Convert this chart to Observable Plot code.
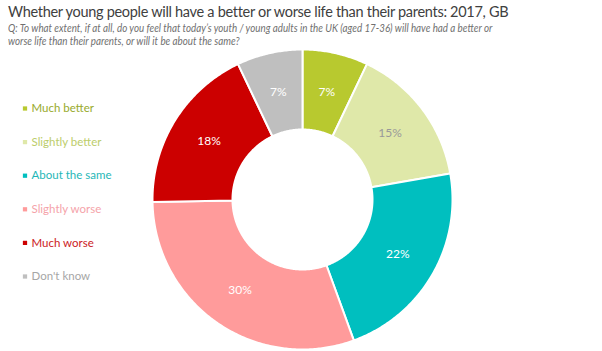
<!DOCTYPE html>
<html>
<head>
<meta charset="utf-8">
<script src="https://cdn.jsdelivr.net/npm/d3@7"></script>
<script src="https://cdn.jsdelivr.net/npm/@observablehq/plot@0.6"></script>
<style>
  html, body { margin: 0; padding: 0; background: #fff; width: 602px; height: 351px; overflow: hidden; }
  #title { position: absolute; left: 8px; top: 3px; font-family: Lato, sans-serif; font-size: 14.5px; color: #404040; white-space: nowrap; letter-spacing: -0.3px; }
  #sub { position: absolute; left: 8px; top: 21px; font-family: Lato, sans-serif; font-style: italic; font-size: 11.5px; line-height: 13px; color: #707070; white-space: nowrap; transform: scaleX(0.852); transform-origin: 0 0; }
  #chart { position: absolute; left: 0; top: 46px; }
</style>
</head>
<body>
<div id="title">Whether young people will have a better or worse life than their parents: 2017, GB</div>
<div id="sub">Q: To what extent, if at all, do you feel that today’s youth / young adults in the UK (aged 17-36) will have had a better or<br>worse life than their parents, or will it be about the same?</div>
<div id="chart"></div>
<script>
// ---- data ----
const categories = ["Much better", "Slightly better", "About the same", "Slightly worse", "Much worse", "Don't know"];
const values = [7, 15, 22, 30, 18, 7];
const sliceColors = ["#b8c92f", "#dfe8a9", "#00bfbf", "#ff9b9b", "#cc0000", "#bfbfbf"];
const legendTextColors = ["#98aa2c", "#bccd6a", "#1fb7b7", "#f5a3aa", "#cc1a24", "#a6a6a6"];
const labelColors = ["#ffffff", "#999999", "#ffffff", "#ffffff", "#ffffff", "#ffffff"];

// ---- layout ----
const W = 602, H = 305;
const cx = 302, cy = 153, rOuter = 150, rInner = 70, rLabel = 110;

const data = categories.map((c, i) => ({category: c, value: values[i]}));
const arcs = d3.pie().sort(null).value(d => d.value)(data);

// polygon outline of each slice (sampled along the arcs)
const pts = [];
arcs.forEach(a => {
  const n = Math.max(2, Math.ceil((a.endAngle - a.startAngle) / 0.01));
  const ring = [];
  for (let k = 0; k <= n; k++) {
    const t = a.startAngle + (a.endAngle - a.startAngle) * k / n;
    ring.push([cx + rOuter * Math.sin(t), cy - rOuter * Math.cos(t)]);
  }
  for (let k = n; k >= 0; k--) {
    const t = a.startAngle + (a.endAngle - a.startAngle) * k / n;
    ring.push([cx + rInner * Math.sin(t), cy - rInner * Math.cos(t)]);
  }
  ring.push(ring[0]);
  ring.forEach(([x, y]) => pts.push({category: a.data.category, x, y}));
});

const labels = arcs.map((a, i) => {
  const t = (a.startAngle + a.endAngle) / 2;
  return {category: a.data.category, text: a.data.value + "%", x: cx + rLabel * Math.sin(t), y: cy - rLabel * Math.cos(t), i};
});

const legendTop = 62, legendStep = 33.6;

const marks = [
  Plot.line(pts, {x: "x", y: "y", z: "category", fill: "category", stroke: "white", strokeWidth: 2, curve: "linear"}),
  ...labels.map(l => Plot.text([l], {x: "x", y: "y", text: "text", fill: labelColors[l.i], fontSize: 12, fontFamily: "Lato, sans-serif"})),
  Plot.dot(categories, {x: 24.5, y: (d, i) => legendTop + i * legendStep, fill: d => d, symbol: "square", r: 2.4, stroke: null}),
  ...categories.map((c, i) => Plot.text([c], {x: 31, y: legendTop + i * legendStep, text: d => d, textAnchor: "start", fill: legendTextColors[i], fontSize: 11.5, fontFamily: "Lato, sans-serif"}))
];

const chart = Plot.plot({
  width: W, height: H,
  margin: 0,
  x: {type: "linear", domain: [0, W], range: [0, W], axis: null},
  y: {type: "linear", domain: [0, H], range: [0, H], axis: null},
  color: {domain: categories, range: sliceColors},
  style: {background: "transparent", fontFamily: "Lato, sans-serif"},
  marks
});
document.getElementById("chart").appendChild(chart);
</script>
</body>
</html>
